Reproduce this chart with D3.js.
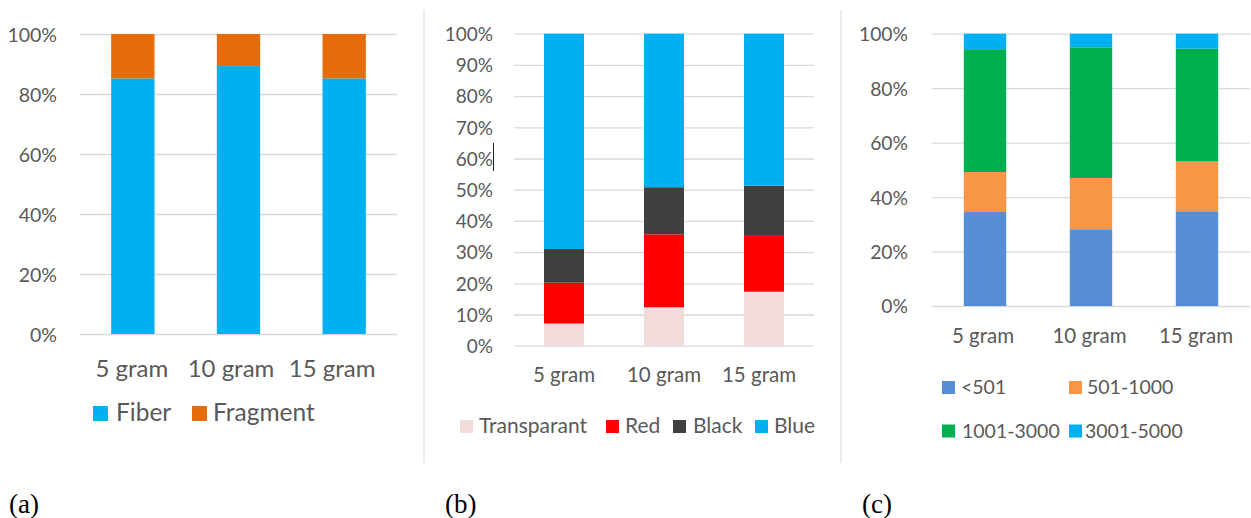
<!DOCTYPE html>
<html>
<head>
<meta charset="utf-8">
<script src="https://cdn.jsdelivr.net/npm/d3@7"></script>
<style>
  html, body { margin: 0; padding: 0; background: #fff; }
  svg { display: block; }
</style>
</head>
<body>
<svg id="fig" width="1251" height="518"></svg>
<script>
// Sample masses shared by all three panels
const grams = ["5 gram", "10 gram", "15 gram"];

// (a) particle shape, % of particles
const shapeNames = ["Fiber", "Fragment"];
const fiberPct = [85.2, 89.3, 85.2];
const fragmentPct = [14.8, 10.7, 14.8];
const shapeTicks = [0, 20, 40, 60, 80, 100];

// (b) particle colour, % of particles
const colourNames = ["Transparant", "Red", "Black", "Blue"];
const transparantPct = [7.1, 12.3, 17.3];
const redPct = [13.1, 23.4, 17.9];
const blackPct = [10.8, 15.1, 16.1];
const bluePct = [69.0, 49.2, 48.7];
const colourTicks = [0, 10, 20, 30, 40, 50, 60, 70, 80, 90, 100];

// (c) particle size class, % of particles
const sizeNames = ["<501", "501-1000", "1001-3000", "3001-5000"];
const sizeUnder501 = [34.5, 28.2, 34.8];
const size501to1000 = [14.7, 18.8, 18.3];
const size1001to3000 = [45.1, 48.0, 41.4];
const size3001to5000 = [5.7, 5.0, 5.5];
const sizeTicks = [0, 20, 40, 60, 80, 100];

const FONT = "Lato, 'Open Sans', sans-serif";
const TEXT = "#595959";
const GRID = "#d9d9d9";

const svg = d3.select("#fig");

function drawPanel(opt) {
  const g = svg.append("g");
  const rows = grams.map((cat, i) => {
    const r = { cat };
    opt.keys.forEach((k, j) => { r[k] = opt.series[j][i]; });
    return r;
  });
  const layers = d3.stack().keys(opt.keys)(rows);

  const x = d3.scaleBand().domain(grams)
    .range([opt.x0, opt.x1])
    .paddingInner(opt.pad).paddingOuter(opt.pad / 2);
  const y = d3.scaleLinear().domain([0, 100]).range([opt.yBottom, opt.yTop]);
  const color = d3.scaleOrdinal().domain(opt.keys).range(opt.colors);

  // horizontal gridlines
  g.append("g")
    .attr("transform", `translate(${opt.x0},0)`)
    .call(d3.axisLeft(y).tickValues(opt.ticks).tickSize(-(opt.x1 - opt.x0)).tickFormat(""))
    .call(a => a.select(".domain").remove())
    .selectAll("line").attr("stroke", GRID).attr("stroke-width", 1.3);

  // percentage labels
  const ya = g.append("g")
    .attr("transform", `translate(${opt.tickRight},0)`)
    .call(d3.axisLeft(y).tickValues(opt.ticks).tickSize(0).tickPadding(0).tickFormat(d => d + "%"));
  ya.select(".domain").remove();
  ya.attr("font-family", FONT).attr("font-size", opt.tickFont);
  ya.selectAll("text").attr("fill", TEXT).attr("dy", "0.36em");

  // stacked bars
  g.append("g").selectAll("g").data(layers).join("g")
    .attr("fill", d => color(d.key))
    .selectAll("rect").data(d => d).join("rect")
    .attr("x", d => x(d.data.cat))
    .attr("width", x.bandwidth())
    .attr("y", d => y(d[1]))
    .attr("height", d => y(d[0]) - y(d[1]));

  // category labels (nudged sideways where they crowd each other)
  const xa = g.append("g")
    .attr("transform", `translate(0,${opt.catBaseline})`)
    .call(d3.axisBottom(x).tickSize(0).tickPadding(0));
  xa.select(".domain").remove();
  xa.attr("font-family", FONT).attr("font-size", opt.catFont);
  xa.selectAll("text").attr("fill", TEXT).attr("dy", 0).attr("y", 0)
    .attr("dx", (d, i) => opt.catShift[i]);

  // legend
  const lg = g.append("g").attr("font-family", FONT).attr("font-size", opt.legendFont);
  opt.keys.forEach((k, i) => {
    const p = opt.legendPos[i];
    lg.append("rect")
      .attr("x", p[0]).attr("y", p[1] - opt.swatch)
      .attr("width", opt.swatch).attr("height", opt.swatch)
      .attr("fill", color(k));
    lg.append("text")
      .attr("x", p[2]).attr("y", p[1])
      .attr("fill", TEXT).text(k);
  });
}

// (a) shape
drawPanel({
  keys: shapeNames,
  series: [fiberPct, fragmentPct],
  colors: ["#00b0f0", "#e46c0a"],
  ticks: shapeTicks,
  x0: 80, x1: 397, yTop: 34, yBottom: 334, pad: 0.59,
  tickRight: 57, tickFont: 19.5,
  catBaseline: 377, catFont: 24, catShift: [-1, -7.5, -12],
  legendFont: 24.5, swatch: 15,
  legendPos: [[93, 421, 116], [192, 421, 213]]
});

// (b) colour
drawPanel({
  keys: colourNames,
  series: [transparantPct, redPct, blackPct, bluePct],
  colors: ["#f2dcdb", "#ff0000", "#404040", "#00b0f0"],
  ticks: colourTicks,
  x0: 514, x1: 814, yTop: 33.7, yBottom: 345.7, pad: 0.6,
  tickRight: 493, tickFont: 19,
  catBaseline: 382, catFont: 20.5, catShift: [0, 0, -5],
  legendFont: 21, swatch: 13,
  legendPos: [[460, 433, 479], [606, 433, 625], [673, 433, 693], [755, 433, 774]]
});

// (c) size
drawPanel({
  keys: sizeNames,
  series: [sizeUnder501, size501to1000, size1001to3000, size3001to5000],
  colors: ["#558ed5", "#f79646", "#00b050", "#00b0f0"],
  ticks: sizeTicks,
  x0: 932, x1: 1250, yTop: 33.7, yBottom: 306, pad: 0.6,
  tickRight: 908, tickFont: 19.3,
  catBaseline: 342.5, catFont: 20.5, catShift: [-2, -1.5, -1],
  legendFont: 19.5, swatch: 13,
  legendPos: [[942, 394, 961], [1069, 394, 1087], [942, 437.5, 962], [1069, 437.5, 1085]]
});

// panel separators
[424, 841].forEach(px => {
  svg.append("line")
    .attr("x1", px).attr("x2", px).attr("y1", 10).attr("y2", 463)
    .attr("stroke", "#d9d9d9").attr("stroke-width", 1);
});

// text caret left next to the 60% label in (b)
svg.append("line")
  .attr("x1", 493.5).attr("x2", 493.5).attr("y1", 143).attr("y2", 171)
  .attr("stroke", "#222").attr("stroke-width", 1);

// panel captions
[["(a)", 9], ["(b)", 445], ["(c)", 862]].forEach(([t, px]) => {
  svg.append("text")
    .attr("x", px).attr("y", 512.5)
    .attr("font-family", "'Liberation Serif', serif")
    .attr("font-size", 27)
    .attr("fill", "#000")
    .text(t);
});
</script>
</body>
</html>
